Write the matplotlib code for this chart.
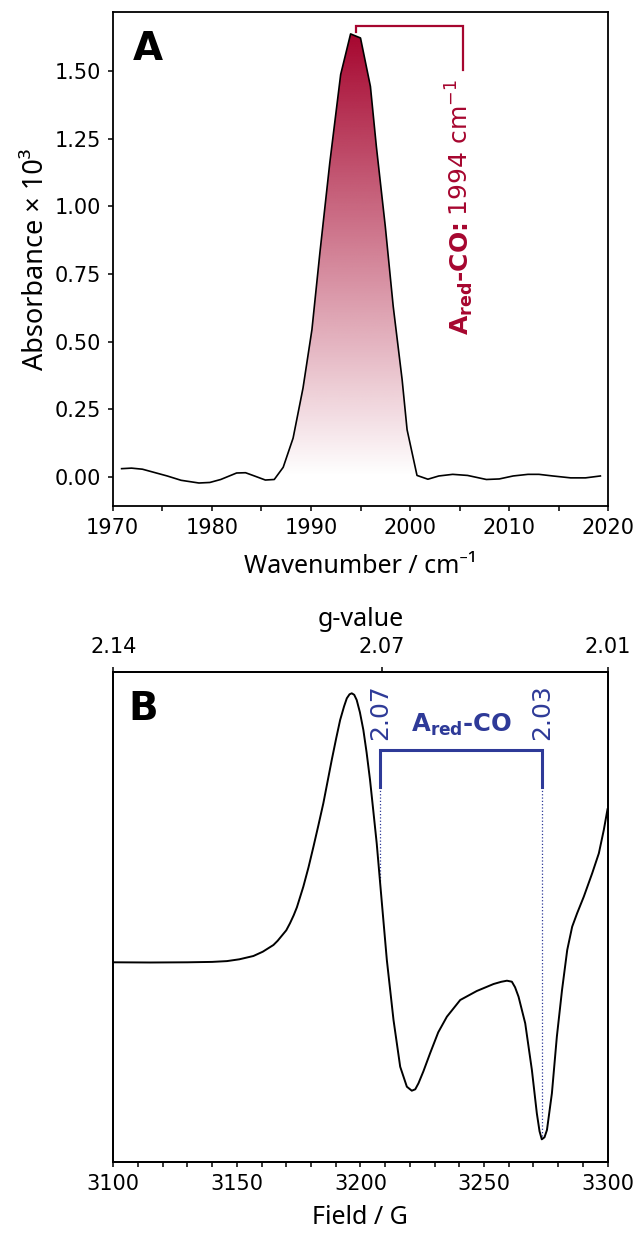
import numpy as np
import matplotlib
matplotlib.use("Agg")
import matplotlib.pyplot as plt
from matplotlib.patches import Polygon
from matplotlib.ticker import MultipleLocator, FormatStrFormatter

# IR spectrum (CO stretch region)
wavenumber = [1970.9, 1971.9, 1973.0, 1974.0, 1975.5, 1976.9, 1978.7, 1979.8, 1980.9,
              1982.5, 1983.4, 1984.3, 1985.4, 1986.3, 1987.2, 1988.2, 1989.2, 1990.1,
              1990.9, 1991.9, 1993.0, 1994.0, 1995.0, 1996.0, 1996.6, 1997.5, 1998.3,
              1999.2, 1999.7, 2000.7, 2001.8, 2002.9, 2004.3, 2005.8, 2007.7, 2009.0,
              2010.4, 2011.9, 2013.0, 2014.4, 2016.2, 2017.7, 2019.2]
absorbance = [0.030, 0.032, 0.028, 0.018, 0.003, -0.013, -0.023, -0.021, -0.010,
              0.014, 0.015, 0.003, -0.012, -0.010, 0.035, 0.143, 0.328, 0.544,
              0.827, 1.160, 1.487, 1.637, 1.622, 1.443, 1.221, 0.926, 0.630,
              0.359, 0.174, 0.005, -0.009, 0.003, 0.009, 0.005, -0.010, -0.008,
              0.003, 0.009, 0.009, 0.003, -0.004, -0.004, 0.003]
peak_first, peak_last = 14, 29   # points belonging to the 1994 band
ir_band = 1994

# EPR spectrum (first derivative, arbitrary units)
field = [3100.0, 3115.0, 3130.0, 3140.0, 3146.0, 3151.0, 3156.7, 3160.5, 3164.8, 3166.5,
         3168.0, 3170.0, 3171.5, 3173.0, 3174.3, 3176.9, 3179.0, 3181.0, 3183.0, 3185.0,
         3188.4, 3190.2, 3191.8, 3193.4, 3194.5, 3195.6, 3196.5, 3197.5, 3198.5, 3199.8,
         3201.2, 3202.5, 3203.9, 3205.2, 3206.6, 3208.7, 3210.7, 3213.4, 3216.1, 3218.8,
         3220.8, 3222.2, 3223.5, 3225.5, 3228.2, 3231.5, 3235.0, 3240.4, 3247.1, 3253.9,
         3257.0, 3259.3, 3261.3, 3262.6, 3264.0, 3266.7, 3269.4, 3271.4, 3272.5, 3273.4,
         3274.5, 3275.5, 3277.5, 3279.5, 3281.6, 3283.7, 3285.7, 3287.7, 3290.4, 3293.8,
         3296.5, 3298.5, 3300.0]
signal = [0.000, -0.002, 0.000, 0.004, 0.012, 0.030, 0.063, 0.106, 0.173, 0.215,
          0.260, 0.320, 0.390, 0.470, 0.550, 0.756, 0.950, 1.156, 1.370, 1.590,
          2.023, 2.240, 2.423, 2.560, 2.640, 2.680, 2.690, 2.675, 2.623, 2.500,
          2.323, 2.100, 1.823, 1.520, 1.190, 0.590, 0.023, -0.577, -1.044, -1.244,
          -1.284, -1.270, -1.210, -1.090, -0.910, -0.700, -0.544, -0.377, -0.287, -0.217,
          -0.195, -0.184, -0.194, -0.250, -0.344, -0.610, -1.077, -1.510, -1.690, -1.770,
          -1.750, -1.677, -1.310, -0.744, -0.277, 0.123, 0.356, 0.490, 0.656, 0.890,
          1.090, 1.323, 1.530]
mw_constant = 6642.0          # h*nu/mu_B in g*G
mark_fields = [3208.0, 3273.5]
g_ticks_field = [3100.0, mw_constant / 2.07, 3300.0]

red = "#a6062f"
blue = "#2e3a98"
label_font = ["Noto Sans", "DejaVu Sans"]

plt.rcParams["font.family"] = ["DejaVu Sans"]
plt.rcParams["font.size"] = 15
plt.rcParams["axes.linewidth"] = 1.3
plt.rcParams["xtick.major.width"] = 1.1
plt.rcParams["ytick.major.width"] = 1.1
plt.rcParams["xtick.minor.width"] = 1.1
plt.rcParams["xtick.minor.size"] = 3.5
plt.rcParams["mathtext.default"] = "regular"

fig = plt.figure(figsize=(6.36, 12.36), dpi=100)
ax1 = fig.add_axes([112.7 / 636, 1 - 506 / 1236, 495.6 / 636, 494 / 1236])
ax2 = fig.add_axes([113.3 / 636, 1 - 1162 / 1236, 494.2 / 636, 490.3 / 1236])

# ---- A: IR ----
wn = np.array(wavenumber)
ab = np.array(absorbance)
ax1.plot(wn, ab, color="black", lw=1.2, zorder=3)

band_x = wn[peak_first:peak_last + 1]
band_y = np.clip(ab[peak_first:peak_last + 1], 0, None)
verts = np.column_stack([np.r_[band_x[0], band_x, band_x[-1]], np.r_[0, band_y, 0]])
clip = Polygon(verts, closed=True, facecolor="none", edgecolor="none")
ax1.add_patch(clip)
grad = np.zeros((256, 1, 4))
grad[..., :3] = matplotlib.colors.to_rgb(red)
grad[..., 3] = np.linspace(0, 1, 256)[:, None]
img = ax1.imshow(grad, extent=[band_x[0], band_x[-1], 0, band_y.max()], origin="lower",
                 aspect="auto", zorder=2, interpolation="bilinear")
img.set_clip_path(clip)

ax1.set_xlim(1970, 2020)
ax1.set_ylim(-0.108, 1.718)
ax1.xaxis.set_major_locator(MultipleLocator(10))
ax1.xaxis.set_minor_locator(MultipleLocator(5))
ax1.yaxis.set_major_locator(MultipleLocator(0.25))
ax1.yaxis.set_major_formatter(FormatStrFormatter("%.2f"))
ax1.tick_params(axis="both", which="both", pad=5)
ax1.set_xlabel("Wavenumber / cm\u207b\u00b9", family=label_font, fontsize=18, labelpad=12)
ax1.set_ylabel("Absorbance \u00d7 10\u00b3", family=label_font, fontsize=19.5, labelpad=3)
ax1.text(0.041, 0.903, "A", transform=ax1.transAxes, fontsize=28, fontweight="bold",
         va="baseline", ha="left")

# bracket from the band maximum to the label
bx0, bx1 = ir_band + 0.5, 2005.3
ax1.plot([bx0, bx0, bx1, bx1], [1.645, 1.665, 1.665, 1.505], color=red, lw=1.6,
         solid_joinstyle="miter", zorder=4)
lbl_x = 2005.9
t_bold = ax1.text(lbl_x, 0.524, "A$_\\mathbf{red}$-CO:", rotation=90, rotation_mode="anchor",
                  ha="left", va="baseline", fontweight="bold", color=red, fontsize=18)
fig.canvas.draw()
bb = t_bold.get_window_extent()
y_next = ax1.transData.inverted().transform((0, bb.y1))[1]
ax1.text(lbl_x, y_next, f" {ir_band} cm$^{{-1}}$", rotation=90, rotation_mode="anchor",
         ha="left", va="baseline", color=red, fontsize=18)

# ---- B: EPR ----
fd = np.array(field)
sg = np.array(signal)
ax2.plot(fd, sg, color="black", lw=1.4, zorder=3)
ax2.set_xlim(3100, 3300)
ax2.set_ylim(-1.997, 2.906)
ax2.set_yticks([])
ax2.xaxis.set_major_locator(MultipleLocator(50))
ax2.xaxis.set_minor_locator(MultipleLocator(10))
ax2.tick_params(axis="x", which="both", pad=5)
ax2.set_xlabel("Field / G", family=label_font, fontsize=18, labelpad=8)
ax2.text(0.03, 0.9015, "B", transform=ax2.transAxes, fontsize=28, fontweight="bold",
         va="baseline", ha="left")

axg = ax2.twiny()
axg.set_xlim(ax2.get_xlim())
axg.set_xticks(g_ticks_field)
axg.set_xticklabels([f"{mw_constant / b:.2f}" for b in g_ticks_field])
axg.tick_params(axis="x", pad=7)
axg.set_xlabel("g-value", family=label_font, fontsize=18, labelpad=8)

for b in mark_fields:
    ax2.plot([b, b], [1.756, np.interp(b, fd, sg)], color=blue, lw=0.9, ls=":", zorder=2)
    ax2.text(b, 2.22, f"{mw_constant / b:.2f}", rotation=90, ha="center", va="bottom",
             color=blue, fontsize=18)
ax2.plot([mark_fields[0], mark_fields[0], mark_fields[1], mark_fields[1]],
         [1.756, 2.123, 2.123, 1.756], color=blue, lw=2.2, solid_joinstyle="miter", zorder=4)
ax2.text(np.mean(mark_fields), 2.30, "A$_\\mathbf{red}$-CO", ha="center", va="baseline",
         fontweight="bold", color=blue, fontsize=17.5)

fig.savefig("out.png", dpi=100)
